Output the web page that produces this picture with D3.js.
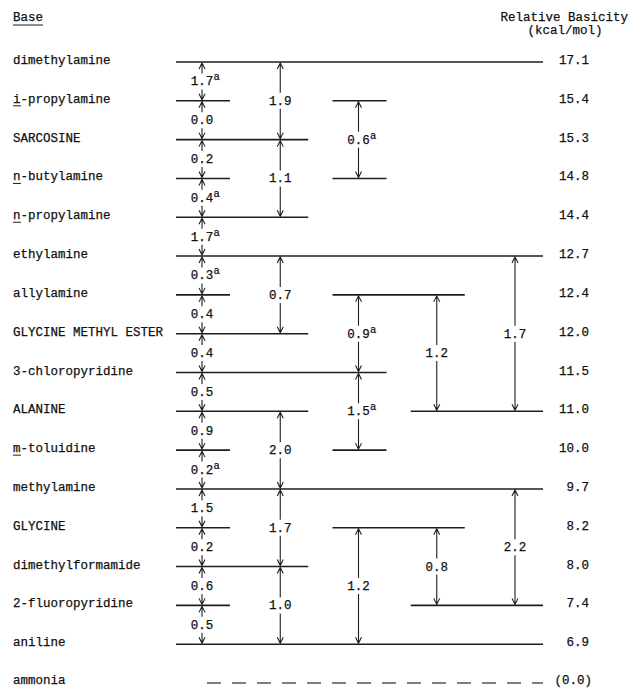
<!DOCTYPE html>
<html>
<head>
<meta charset="utf-8">
<script src="https://cdn.jsdelivr.net/npm/d3@7"></script>
<style>
  body { margin: 0; background: #fff; }
  text { font-family: "Liberation Mono", "DejaVu Sans Mono", monospace; font-size: 12.5px; fill: #111; stroke: #111; stroke-width: 0.25px; }
</style>
</head>
<body>
<svg id="chart" width="630" height="688"></svg>
<script>
// bases, top to bottom
var bases = ["dimethylamine", "i-propylamine", "SARCOSINE", "n-butylamine", "n-propylamine",
  "ethylamine", "allylamine", "GLYCINE METHYL ESTER", "3-chloropyridine", "ALANINE",
  "m-toluidine", "methylamine", "GLYCINE", "dimethylformamide", "2-fluoropyridine",
  "aniline", "ammonia"];
var basicity = [17.1, 15.4, 15.3, 14.8, 14.4, 12.7, 12.4, 12.0, 11.5, 11.0, 10.0, 9.7, 8.2, 8.0, 7.4, 6.9, 0.0];
// names whose first letter is underlined (i-, n-, m-)
var prefixed = ["i-propylamine", "n-butylamine", "n-propylamine", "m-toluidine"];

// energy levels: [row, first column, last column]
var levels = [
  [0, 0, 4], [1, 0, 0], [1, 2, 2], [2, 0, 1], [3, 0, 0], [3, 2, 2], [4, 0, 1],
  [5, 0, 4], [6, 0, 0], [6, 2, 3], [7, 0, 1], [8, 0, 2], [9, 0, 1], [9, 3, 4],
  [10, 0, 0], [10, 2, 2], [11, 0, 4], [12, 0, 0], [12, 2, 3], [13, 0, 1],
  [14, 0, 0], [14, 3, 4], [15, 0, 4]
];

// measured differences: [column, upper row, lower row, value, footnote]
var gaps = [
  [0, 0, 1, "1.7", "a"], [0, 1, 2, "0.0", ""], [0, 2, 3, "0.2", ""], [0, 3, 4, "0.4", "a"],
  [0, 4, 5, "1.7", "a"], [0, 5, 6, "0.3", "a"], [0, 6, 7, "0.4", ""], [0, 7, 8, "0.4", ""],
  [0, 8, 9, "0.5", ""], [0, 9, 10, "0.9", ""], [0, 10, 11, "0.2", "a"], [0, 11, 12, "1.5", ""],
  [0, 12, 13, "0.2", ""], [0, 13, 14, "0.6", ""], [0, 14, 15, "0.5", ""],
  [1, 0, 2, "1.9", ""], [1, 2, 4, "1.1", ""], [1, 5, 7, "0.7", ""], [1, 9, 11, "2.0", ""],
  [1, 11, 13, "1.7", ""], [1, 13, 15, "1.0", ""],
  [2, 1, 3, "0.6", "a"], [2, 6, 8, "0.9", "a"], [2, 8, 10, "1.5", "a"], [2, 12, 15, "1.2", ""],
  [3, 6, 9, "1.2", ""], [3, 12, 14, "0.8", ""],
  [4, 5, 9, "1.7", ""], [4, 11, 14, "2.2", ""]
];

var svg = d3.select("#chart");
var ink = "#1e1e1e";

var y = d3.scaleLinear().domain([0, bases.length - 1]).range([62, 683]);
var x = d3.scaleLinear().domain([0, 4]).range([202, 515]);
var padL = 26, padR = 28;
var fmt = d3.format(".1f");
var last = bases.length - 1;

// headers
svg.append("text").attr("x", 13).attr("y", 21).text("Base");
svg.append("line").attr("x1", 13).attr("x2", 43).attr("y1", 25).attr("y2", 25)
  .attr("stroke", ink).attr("stroke-width", 1);
svg.append("text").attr("x", 628).attr("y", 21).attr("text-anchor", "end").text("Relative Basicity");
svg.append("text").attr("x", 565).attr("y", 34).attr("text-anchor", "middle").text("(kcal/mol)");

// row labels
function baseline(i) { return y(i) + (i == last ? 1 : 2); }
var rows = svg.selectAll(".row").data(bases).enter().append("g").attr("class", "row");
rows.append("text")
  .attr("x", 13)
  .attr("y", function (d, i) { return baseline(i); })
  .text(function (d) { return d; });
rows.filter(function (d) { return prefixed.indexOf(d) >= 0; })
  .append("line")
  .attr("x1", 13).attr("x2", 21)
  .attr("y1", function (d) { return y(bases.indexOf(d)) + 5; })
  .attr("y2", function (d) { return y(bases.indexOf(d)) + 5; })
  .attr("stroke", ink).attr("stroke-width", 1);

// values
svg.selectAll(".val").data(basicity).enter().append("text")
  .attr("class", "val")
  .attr("x", function (d, i) { return i == last ? 592 : 589; })
  .attr("y", function (d, i) { return baseline(i); })
  .attr("text-anchor", "end")
  .text(function (d, i) { return i == last ? "(" + fmt(d) + ")" : fmt(d); });

// levels
svg.selectAll(".level").data(levels).enter().append("line")
  .attr("class", "level")
  .attr("x1", function (d) { return x(d[1]) - padL; })
  .attr("x2", function (d) { return x(d[2]) + padR; })
  .attr("y1", function (d) { return y(d[0]); })
  .attr("y2", function (d) { return y(d[0]); })
  .attr("stroke", ink).attr("stroke-width", 1.6);

// ammonia reference level, dashed
svg.append("line")
  .attr("x1", x(0) + 5).attr("x2", x(4) + padR)
  .attr("y1", y(last)).attr("y2", y(last))
  .attr("stroke", "#555").attr("stroke-width", 1.6)
  .attr("stroke-dasharray", "14,11");

// arrows
var g = svg.selectAll(".gap").data(gaps).enter().append("g").attr("class", "gap");
function mid(d) { return (y(d[1]) + y(d[2])) / 2; }

g.append("path")
  .attr("fill", "none").attr("stroke", ink).attr("stroke-width", 1.1)
  .attr("d", function (d) {
    var cx = x(d[0]), top = y(d[1]), bot = y(d[2]), m = mid(d);
    var p = d3.path();
    p.moveTo(cx, m - 8); p.lineTo(cx, top + 1);
    p.moveTo(cx - 3, top + 7); p.lineTo(cx, top + 1); p.lineTo(cx + 3, top + 7);
    p.moveTo(cx, m + 8); p.lineTo(cx, bot - 1);
    p.moveTo(cx - 3, bot - 7); p.lineTo(cx, bot - 1); p.lineTo(cx + 3, bot - 7);
    return p.toString();
  });

g.append("text")
  .attr("x", function (d) { return x(d[0]); })
  .attr("y", function (d) { return mid(d) + 4; })
  .attr("text-anchor", "middle")
  .text(function (d) { return d[3]; });

g.filter(function (d) { return d[4]; }).append("text")
  .attr("x", function (d) { return x(d[0]) + 11.5; })
  .attr("y", function (d) { return mid(d) - 1; })
  .style("font-size", "10.5px")
  .text(function (d) { return d[4]; });
</script>
</body>
</html>
